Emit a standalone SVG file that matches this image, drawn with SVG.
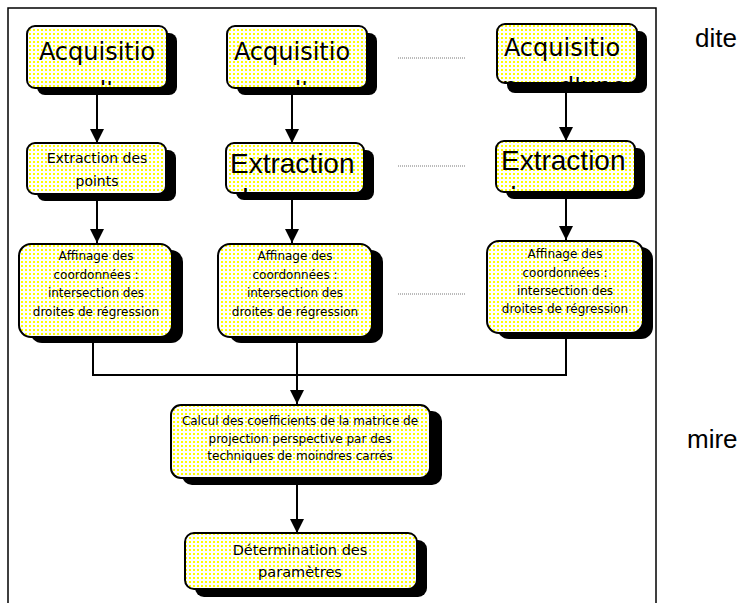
<svg xmlns="http://www.w3.org/2000/svg" width="755" height="603" viewBox="0 0 755 603">
<style>
.box{fill:url(#dots);stroke:#000;stroke-width:2}
.sh{fill:#000}
.c{font-family:"Comic Sans MS","DejaVu Sans",sans-serif;fill:#000}
.a{font-family:"Liberation Sans",Arial,sans-serif;fill:#000}
.ln{stroke:#000;stroke-width:2;fill:none}
.dot{stroke:#777;stroke-width:1;stroke-dasharray:1 1;fill:none}
</style>
<defs>
<pattern id="dots" width="4" height="4" patternUnits="userSpaceOnUse">
<rect width="4" height="4" fill="#fff"/>
<rect x="1" y="1" width="2" height="2" fill="#ffff00"/>
</pattern>
<marker id="ar" viewBox="0 0 14 16" refX="14" refY="8" markerWidth="14" markerHeight="16" markerUnits="userSpaceOnUse" orient="auto">
<path d="M0,1 L14,8 L0,15 z" fill="#000"/>
</marker>
<clipPath id="k1"><rect x="28" y="27" width="138" height="58"/></clipPath>
<clipPath id="k2"><rect x="228" y="27" width="138" height="58"/></clipPath>
<clipPath id="k3"><rect x="498" y="25" width="138" height="57"/></clipPath>
<clipPath id="k5"><rect x="227" y="144" width="136" height="49"/></clipPath>
<clipPath id="k6"><rect x="497" y="142" width="137" height="47"/></clipPath>
</defs>
<rect x="8" y="8" width="648" height="620" fill="none" stroke="#000" stroke-width="1.5"/>
<text class="a" x="695" y="47" font-size="26">dite</text>
<text class="a" x="687" y="448" font-size="26">mire</text>
<g id="connectors">
<line class="ln" x1="97" y1="95" x2="97" y2="143" marker-end="url(#ar)"/>
<line class="ln" x1="292" y1="95" x2="292" y2="143" marker-end="url(#ar)"/>
<line class="ln" x1="566" y1="93" x2="566" y2="141" marker-end="url(#ar)"/>
<line class="ln" x1="97" y1="201" x2="97" y2="243" marker-end="url(#ar)"/>
<line class="ln" x1="292" y1="200" x2="292" y2="243" marker-end="url(#ar)"/>
<line class="ln" x1="566" y1="199" x2="566" y2="240" marker-end="url(#ar)"/>
<polyline class="ln" points="93,342 93,375 566,375 566,338"/>
<line class="ln" x1="297" y1="342" x2="297" y2="375"/>
<line class="ln" x1="297" y1="375" x2="297" y2="404" marker-end="url(#ar)"/>
<line class="ln" x1="297" y1="485" x2="297" y2="533" marker-end="url(#ar)"/>
<line class="dot" x1="398" y1="58" x2="466" y2="58"/>
<line class="dot" x1="398" y1="166" x2="466" y2="166"/>
<line class="dot" x1="398" y1="294" x2="466" y2="294"/>
</g>
<g id="acq1">
<rect class="sh" x="37" y="33" width="140" height="62" rx="8"/>
<rect class="box" x="27" y="26" width="140" height="62" rx="8"/>
<g clip-path="url(#k1)">
<text class="c" x="97" y="60" font-size="24" text-anchor="middle">Acquisitio</text>
<text class="c" y="99" font-size="24"><tspan x="33">n</tspan><tspan x="91">d'une</tspan></text>
</g>
</g>
<g id="acq2">
<rect class="sh" x="237" y="33" width="140" height="62" rx="8"/>
<rect class="box" x="227" y="26" width="140" height="62" rx="8"/>
<g clip-path="url(#k2)">
<text class="c" x="292" y="60" font-size="24" text-anchor="middle">Acquisitio</text>
<text class="c" y="99" font-size="24"><tspan x="233">n</tspan><tspan x="286">d'une</tspan></text>
</g>
</g>
<g id="acq3">
<rect class="sh" x="507" y="31" width="140" height="62" rx="8"/>
<rect class="box" x="497" y="24" width="140" height="59" rx="8"/>
<g clip-path="url(#k3)">
<text class="c" x="562" y="56" font-size="24" text-anchor="middle">Acquisitio</text>
<text class="c" y="95" font-size="24"><tspan x="502">n</tspan><tspan x="559">d'une</tspan></text>
</g>
</g>
<g id="ext1">
<rect class="sh" x="37" y="150" width="139" height="51" rx="8"/>
<rect class="box" x="27" y="143" width="139" height="51" rx="8"/>
<text class="c" x="97" y="163" font-size="14" text-anchor="middle">Extraction des</text>
<text class="c" x="97" y="186" font-size="14" text-anchor="middle">points</text>
</g>
<g id="ext2">
<rect class="sh" x="236" y="150" width="138" height="50" rx="8"/>
<rect class="box" x="226" y="143" width="138" height="50" rx="8"/>
<g clip-path="url(#k5)">
<text class="a" x="230" y="173" font-size="28">Extraction</text>
<text class="a" x="233" y="208" font-size="28">des</text>
</g>
</g>
<g id="ext3">
<rect class="sh" x="506" y="148" width="139" height="51" rx="8"/>
<rect class="box" x="496" y="141" width="139" height="51" rx="8"/>
<g clip-path="url(#k6)">
<text class="a" x="501" y="170" font-size="28">Extraction</text>
<text class="a" x="501" y="206" font-size="28">des</text>
</g>
</g>
<g id="aff1">
<rect class="sh" x="30" y="250" width="153" height="93" rx="12"/>
<rect class="box" x="19" y="244" width="153" height="93" rx="12"/>
<g class="c" font-size="12" text-anchor="middle">
<text x="96" y="260">Affinage des</text>
<text x="96" y="279">coordonnées :</text>
<text x="96" y="297">intersection des</text>
<text x="96" y="316">droites de régression</text>
</g>
</g>
<g id="aff2">
<rect class="sh" x="229" y="250" width="154" height="93" rx="12"/>
<rect class="box" x="218" y="244" width="154" height="93" rx="12"/>
<g class="c" font-size="12" text-anchor="middle">
<text x="295" y="260">Affinage des</text>
<text x="295" y="279">coordonnées :</text>
<text x="295" y="297">intersection des</text>
<text x="295" y="316">droites de régression</text>
</g>
</g>
<g id="aff3">
<rect class="sh" x="497" y="247" width="156" height="92" rx="12"/>
<rect class="box" x="487" y="241" width="156" height="92" rx="12"/>
<g class="c" font-size="12" text-anchor="middle">
<text x="565" y="258">Affinage des</text>
<text x="565" y="277">coordonnées :</text>
<text x="565" y="295">intersection des</text>
<text x="565" y="313">droites de régression</text>
</g>
</g>
<g id="calc">
<rect class="sh" x="182" y="411" width="260" height="74" rx="10"/>
<rect class="box" x="171" y="405" width="259" height="73" rx="10"/>
<g class="c" font-size="12" text-anchor="middle">
<text x="300" y="425">Calcul des coefficients de la matrice de</text>
<text x="300" y="443">projection perspective par des</text>
<text x="300" y="460">techniques de moindres carrés</text>
</g>
</g>
<g id="det">
<rect class="sh" x="195" y="540" width="232" height="57" rx="9"/>
<rect class="box" x="185" y="533" width="232" height="56" rx="9"/>
<g class="c" font-size="14.5" text-anchor="middle">
<text x="300" y="555">Détermination des</text>
<text x="300" y="577">paramètres</text>
</g>
</g>
</svg>
